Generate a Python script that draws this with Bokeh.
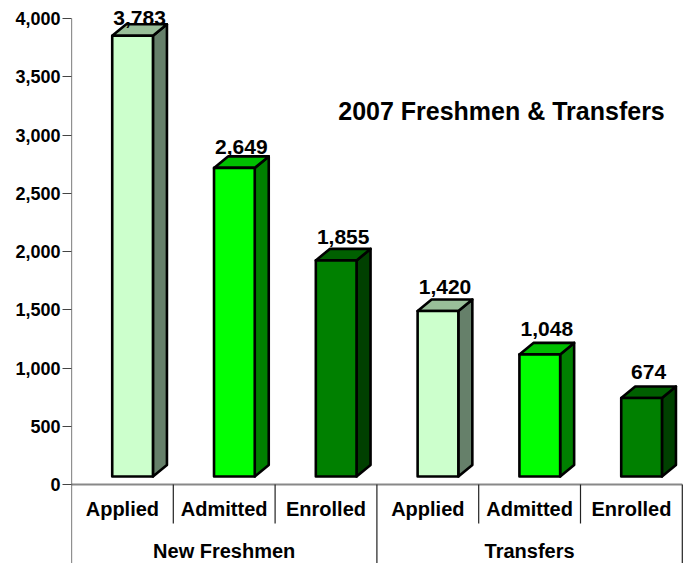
from bokeh.plotting import figure
from bokeh.models import FixedTicker, NumeralTickFormatter, Label
from bokeh.core.properties import value
from bokeh.embed import file_html
from bokeh.resources import INLINE

# ---- data ----
groups = ["New Freshmen", "Transfers"]
stages = ["Applied", "Admitted", "Enrolled"]
new_freshmen = [3783, 2649, 1855]
transfers = [1420, 1048, 674]
y_ticks = [0, 500, 1000, 1500, 2000, 2500, 3000, 3500, 4000]
title_text = "2007 Freshmen & Transfers"

# ---- styles ----
front_colors = ["#CCFFCC", "#00FF00", "#008000"]
side_colors = ["#66806A", "#008000", "#004000"]
top_colors = ["#99BF99", "#00BF00", "#006000"]
FONT = value("Liberation Sans")

# ---- layout (pixels) ----
W, H = 686, 563
LEFT = 71
TOP_PX = 18        # figure px of y = 4000
ZERO_PX = 484      # figure px of y = 0
CAT_PX = 101.8     # px per category
ppu = (ZERO_PX - TOP_PX) / y_ticks[-1]
y_end = y_ticks[-1] + TOP_PX / ppu
y_start = -(H - ZERO_PX) / ppu
n_cat = len(groups) * len(stages)
x_end = (W - LEFT) / CAT_PX
ppx = CAT_PX


def py(px):
    return (ZERO_PX - px) / ppu


p = figure(width=W, height=H, x_range=(0, x_end), y_range=(y_start, y_end),
           output_backend="svg", toolbar_location=None,
           min_border_left=LEFT, min_border_right=0, min_border_top=0, min_border_bottom=0)
p.xaxis.visible = False
p.grid.visible = False
p.outline_line_color = None
p.background_fill_color = "white"

yax = p.yaxis[0]
yax.ticker = FixedTicker(ticks=y_ticks)
yax.formatter = NumeralTickFormatter(format="0,0")
yax.axis_line_color = None
yax.major_tick_out = 9
yax.major_tick_in = 0
yax.major_tick_line_color = "#444444"
yax.minor_tick_line_color = None
yax.major_label_standoff = 2
yax.major_label_text_font = "Liberation Sans"
yax.major_label_text_font_style = "bold"
yax.major_label_text_font_size = "18px"
yax.major_label_text_color = "black"

# ---- 3D bars ----
values = new_freshmen + transfers
b0 = 8 / ppu          # floor offset
dx = 14 / ppx         # depth (x)
dy = 11.5 / ppu       # depth (y)
fx0, fx1 = 0.40, 0.80
LW = 2.6

for i, v in enumerate(values):
    c = i % len(stages)
    l, r = i + fx0, i + fx1
    b, t = b0, b0 + v
    p.patch([r, r + dx, r + dx, r], [b, b + dy, t + dy, t],
            fill_color=side_colors[c], line_color="black", line_width=LW, line_join="round")
    p.patch([l, l + dx, r + dx, r], [t, t + dy, t + dy, t],
            fill_color=top_colors[c], line_color="black", line_width=LW, line_join="round")
    p.quad(left=l, right=r, bottom=b, top=t,
           fill_color=front_colors[c], line_color="black", line_width=LW, line_join="round")

# value labels (label plane slightly flatter than the bar plane)
LABEL_ZERO_PX = 448.3
LABEL_SCALE = 0.114
p.text(x=[i + (fx0 + fx1 + dx) / 2 for i in range(n_cat)],
       y=[py(LABEL_ZERO_PX - LABEL_SCALE * v) for v in values],
       text=[f"{v:,}" for v in values],
       text_font=FONT, text_font_style="bold", text_font_size="21px",
       text_align="center", text_baseline="middle", text_color="black")

# ---- axis lines and separators ----
dark = "#222222"
p.segment(x0=[0], y0=[0], x1=[n_cat], y1=[0], line_color="#888888", line_width=2)
p.segment(x0=[0], y0=[y_start], x1=[0], y1=[y_ticks[-1]], line_color=dark, line_width=1.2)
sub_sep = [i for i in range(1, n_cat) if i % len(stages) != 0]
p.segment(x0=sub_sep, y0=[0] * len(sub_sep), x1=sub_sep, y1=[py(523)] * len(sub_sep),
          line_color=dark, line_width=1.2)
grp_sep = [len(stages) * (g + 1) for g in range(len(groups))]
p.segment(x0=grp_sep, y0=[0] * len(grp_sep), x1=grp_sep, y1=[y_start] * len(grp_sep),
          line_color=dark, line_width=1.2)

# category labels
p.text(x=[i + 0.5 for i in range(n_cat)], y=[py(508)] * n_cat,
       text=stages * len(groups),
       text_font=FONT, text_font_style="bold", text_font_size="20px",
       text_align="center", text_baseline="middle", text_color="black")
p.text(x=[len(stages) * g + len(stages) / 2 for g in range(len(groups))],
       y=[py(550)] * len(groups), text=groups,
       text_font=FONT, text_font_style="bold", text_font_size="20px",
       text_align="center", text_baseline="middle", text_color="black")

# title inside plot
p.add_layout(Label(x=(501 - LEFT) / ppx, y=py(110), text=title_text,
                   text_font="Liberation Sans", text_font_style="bold",
                   text_font_size="25px", text_align="center", text_baseline="middle",
                   text_color="black"))

open("out.html", "w").write(file_html(p, INLINE))
